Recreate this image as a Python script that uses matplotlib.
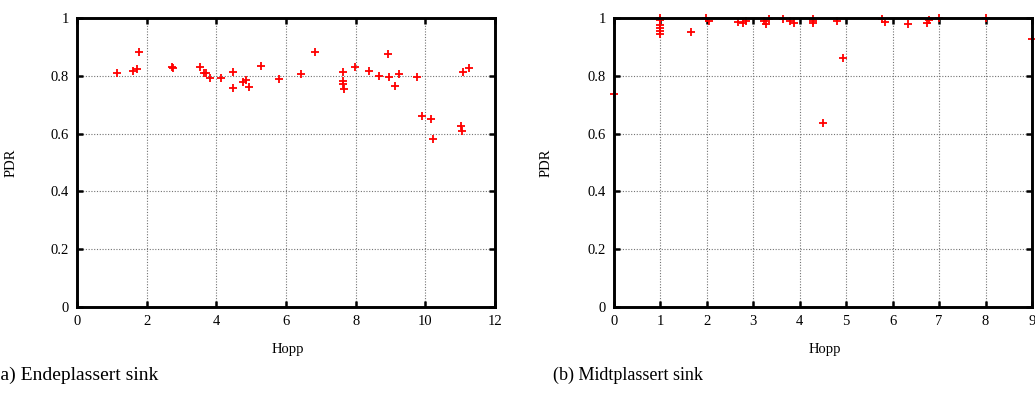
import numpy as np
import matplotlib.pyplot as plt

# PDR per node vs hop count, sink at the end of the network
end_hops = [1.16, 1.62, 1.72, 1.79, 2.73, 2.75, 3.52, 3.66, 3.69, 3.82, 4.13,
            4.48, 4.48, 4.77, 4.84, 4.94, 5.29, 5.81, 6.42, 6.83, 7.65, 7.63,
            7.63, 7.66, 7.99, 8.37, 8.66, 8.92, 8.97, 9.13, 9.23, 9.76, 9.89,
            10.15, 10.23, 11.02, 11.06, 11.07, 11.25]
end_pdr = [0.809, 0.815, 0.825, 0.882, 0.830, 0.826, 0.829, 0.811, 0.809, 0.793,
           0.792, 0.813, 0.759, 0.780, 0.784, 0.761, 0.834, 0.789, 0.807, 0.884,
           0.814, 0.783, 0.770, 0.754, 0.831, 0.818, 0.798, 0.875, 0.797, 0.763,
           0.807, 0.797, 0.660, 0.651, 0.582, 0.628, 0.610, 0.813, 0.828]

# sink in the middle of the network
mid_hops = [0.0, 1.0, 1.0, 1.0, 1.0, 1.0, 1.0, 1.65, 1.99, 2.05, 2.66, 2.77,
            2.85, 3.24, 3.27, 3.33, 3.63, 3.79, 3.88, 4.29, 4.29, 4.29, 4.51,
            4.81, 4.93, 5.78, 5.83, 6.33, 6.73, 6.78, 7.0, 8.0, 9.0]
mid_pdr = [0.738, 1.0, 0.994, 0.977, 0.966, 0.956, 0.946, 0.952, 0.999, 0.990,
           0.986, 0.983, 0.991, 0.989, 0.979, 0.998, 0.998, 0.989, 0.984, 0.998,
           0.990, 0.983, 0.636, 0.989, 0.862, 0.998, 0.985, 0.978, 0.984, 0.992,
           0.999, 0.999, 0.928]

y_ticks = [0, 0.2, 0.4, 0.6, 0.8, 1]
y_labels = ["0", "0.2", "0.4", "0.6", "0.8", "1"]

plt.rcParams["font.family"] = ["Liberation Serif", "DejaVu Serif"]

W, H = 1035, 394
fig = plt.figure(figsize=(W / 100, H / 100), dpi=100)


def px_axes(left, right, top, bottom):
    return fig.add_axes([left / W, 1 - bottom / H, (right - left) / W, (bottom - top) / H])


def style(ax, xmax, xstep):
    ax.set_xlim(0, xmax)
    ax.set_ylim(0, 1)
    ax.set_xticks(np.arange(0, xmax + 0.01, xstep))
    ax.set_yticks(y_ticks)
    ax.set_yticklabels(y_labels)
    ax.grid(True, color="0.45", linestyle=(0, (1, 1.5)), linewidth=0.8)
    ax.tick_params(direction="in", length=4, width=1.8, top=True, right=True,
                   labelsize=10.5, pad=6, color="black")
    for s in ax.spines.values():
        s.set_linewidth(2.1)
    ax.set_xlabel("Hopp", fontsize=10.5)
    ax.set_ylabel("PDR", fontsize=10.5)
    ax.xaxis.set_label_coords(0.505, -0.125)


ax1 = px_axes(77, 495, 18, 307)
ax1.plot(end_hops, end_pdr, "+", color="red", markersize=6, mew=1.3, clip_on=False)
style(ax1, 12, 2)
ax1.yaxis.set_label_coords(-0.141, 0.5)

ax2 = px_axes(614, 1032, 18, 307)
ax2.plot(mid_hops, mid_pdr, "+", color="red", markersize=6, mew=1.3, clip_on=False)
style(ax2, 9, 1)
ax2.yaxis.set_label_coords(-0.146, 0.5)

fig.text(-6 / W, 1 - 375 / H, "(a) Endeplassert sink", fontsize=14, va="center", ha="left")
fig.text(553 / W, 1 - 375 / H, "(b) Midtplassert sink", fontsize=13, va="center", ha="left")

fig.savefig("out.png", dpi=100)
